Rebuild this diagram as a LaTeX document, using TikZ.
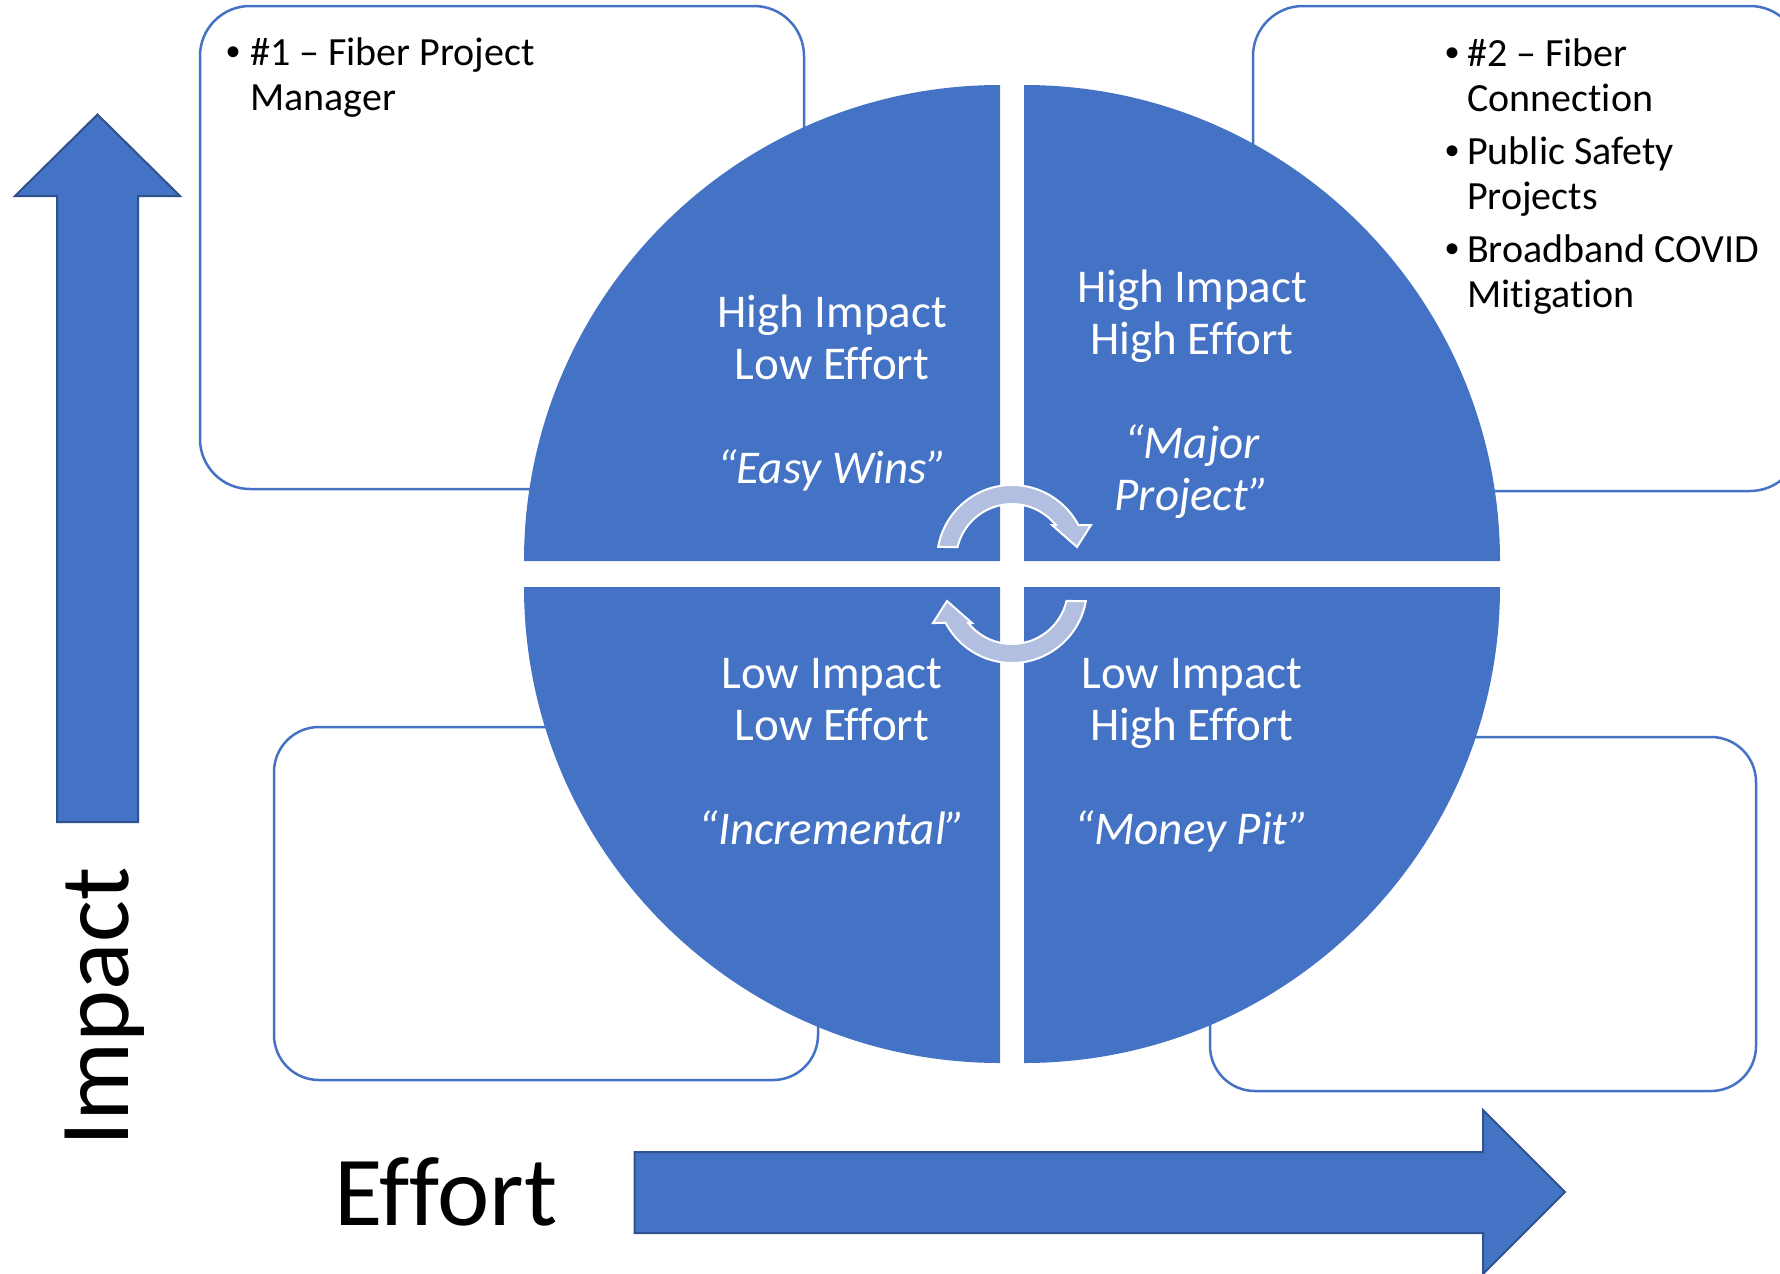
\documentclass[tikz,border=0pt]{standalone}
\usepackage{fontspec}
\setmainfont{Carlito}[Ligatures=NoCommon]
\newfontfamily\bulletfont{Liberation Sans}
\definecolor{qblue}{RGB}{68,114,196}
\definecolor{qdark}{RGB}{47,82,143}
\definecolor{qlight}{RGB}{178,191,225}
\begin{document}
\begin{tikzpicture}[x=1pt,y=-1pt,
  box/.style={draw=qblue, line width=2.5pt, fill=white},
  quad/.style={fill=qblue},
  bigarrow/.style={fill=qblue, draw=qdark, line width=2pt, line join=miter},
  cyc/.style={fill=qlight, draw=white, line width=2pt, line join=miter},
  qtext/.style={text=white, font=\fontsize{47}{52}\selectfont, align=center, anchor=base, inner sep=0pt},
  btext/.style={text=black, font=\fontsize{40}{45}\selectfont, align=left, anchor=base west, inner sep=0pt},
  bullet/.style={text=black, font=\bulletfont\fontsize{40}{45}\selectfont, anchor=base, inner sep=0pt},
  axislabel/.style={text=black, font=\fontsize{99}{110}\selectfont, anchor=base, inner sep=0pt}]
\useasboundingbox (0,0) rectangle (1780,1274);
\fill[white] (0,0) rectangle (1780,1274);
\clip (0,0) rectangle (1780,1274);

% side boxes
\draw[box, rounded corners=50pt] (200,6) rectangle (804,489);
\draw[box, rounded corners=50pt] (1253,6) rectangle (1800,491);
\draw[box, rounded corners=45pt] (274,727) rectangle (818,1080);
\draw[box, rounded corners=45pt] (1210,737) rectangle (1756,1091);

% quadrants
\fill[quad] (1000,561) -- ++(-476,0) arc[start angle=180, end angle=270, radius=476] -- cycle;
\fill[quad] (1024,561) -- ++(0,-476) arc[start angle=270, end angle=360, radius=476] -- cycle;
\fill[quad] (1000,587) -- ++(0,476) arc[start angle=90, end angle=180, radius=476] -- cycle;
\fill[quad] (1024,587) -- ++(476,0) arc[start angle=0, end angle=90, radius=476] -- cycle;

% cycle arrows
\filldraw[cyc] ([shift={(1012,560)}]190:75) arc[start angle=190, end angle=332.2, radius=75]
  -- (1091,525) -- (1077,547) -- (1052,525)
  -- ([shift={(1012,560)}]321.3:56) arc[start angle=321.3, end angle=193.4, radius=56] -- cycle;
\begin{scope}[rotate around={180:(1012,574)}]
\filldraw[cyc] ([shift={(1012,560)}]190:75) arc[start angle=190, end angle=332.2, radius=75]
  -- (1091,525) -- (1077,547) -- (1052,525)
  -- ([shift={(1012,560)}]321.3:56) arc[start angle=321.3, end angle=193.4, radius=56] -- cycle;
\end{scope}

% axis arrows
\draw[bigarrow] (97.5,114.5) -- (180,196) -- (138,196) -- (138,822) -- (57,822) -- (57,196) -- (15,196) -- cycle;
\draw[bigarrow] (634.6,1152) -- (1483,1152) -- (1483,1110) -- (1565,1192) -- (1483,1274) -- (1483,1233) -- (634.6,1233) -- cycle;

% quadrant texts (anchor = baseline of last line)
\node[qtext] (tl) at (832,483) {High Impact\\Low Effort\\[52pt]\textit{“Easy Wins”}};
\node[qtext] (tr) at (1192,510) {High Impact\\High Effort\\[52pt]\textit{“Major}\\\textit{Project”}};
\node[qtext] (bl) at (832,844) {Low Impact\\Low Effort\\[52pt]\textit{“Incremental”}};
\node[qtext] (br) at (1192,844) {Low Impact\\High Effort\\[52pt]\textit{“Money Pit”}};

% box texts
\node[bullet] (b1) at (233,65) {•};
\node[btext] (t1) at (250,110) {\#1 – Fiber Project\\Manager};
\node[bullet] (b2a) at (1452,66) {•};
\node[btext] (t2a) at (1467,111) {\#2 – Fiber\\Connection};
\node[bullet] (b2b) at (1452,164) {•};
\node[btext] (t2b) at (1467,209) {Public Safety\\Projects};
\node[bullet] (b2c) at (1452,262) {•};
\node[btext] (t2c) at (1467,307) {Broadband COVID\\Mitigation};

% axis labels
\node[axislabel, rotate=90] (impact) at (128,1007) {Impact};
\node[axislabel] (effort) at (446,1225) {Effort};
\end{tikzpicture}
\end{document}
